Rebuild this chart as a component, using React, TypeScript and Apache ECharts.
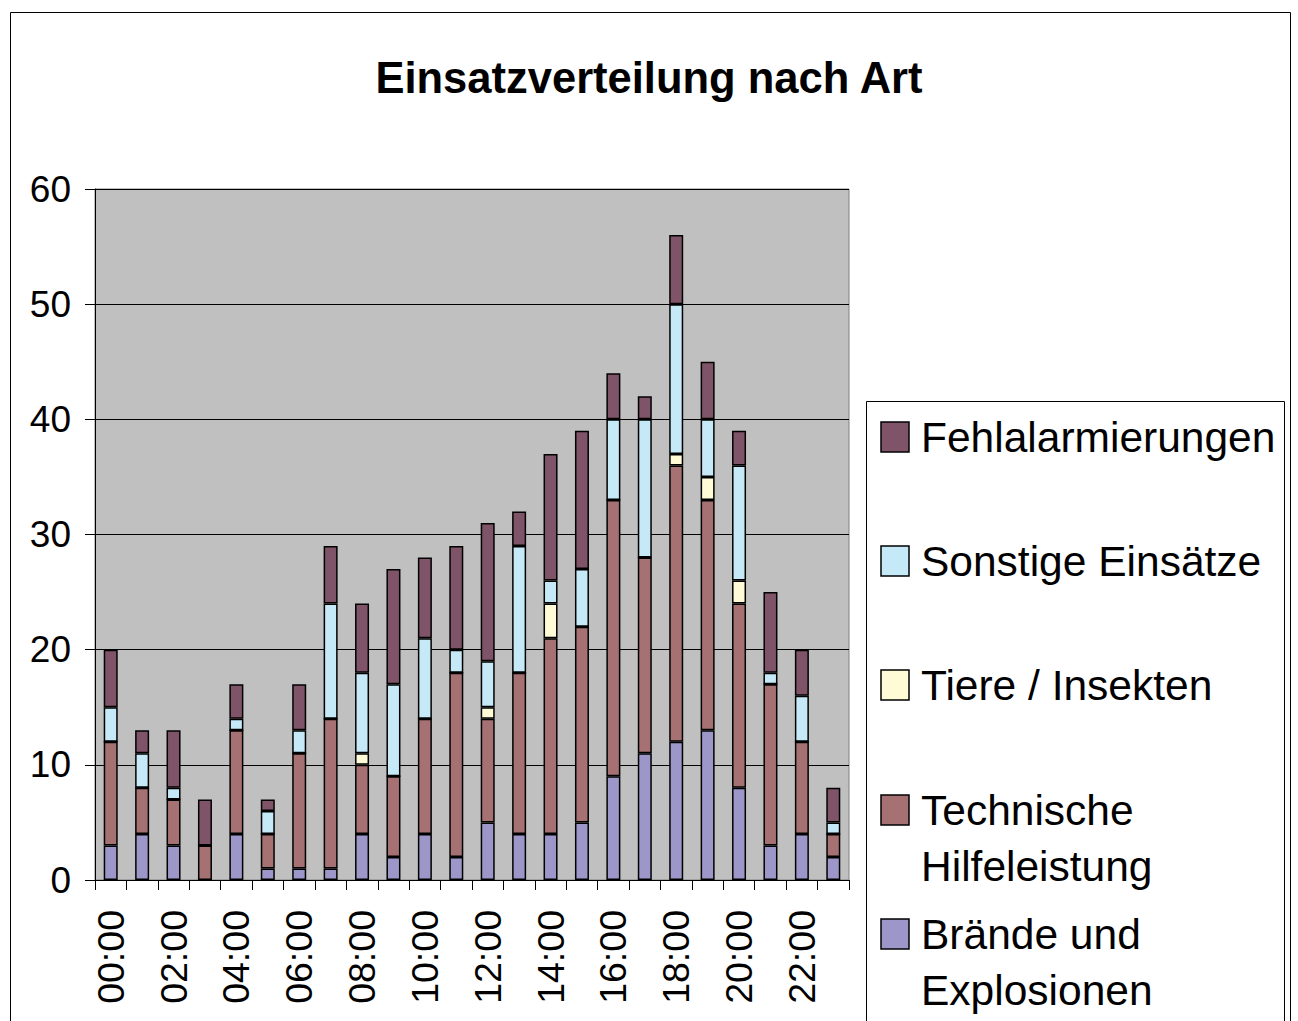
import React, { useEffect, useRef } from "react";
import * as echarts from "echarts";

const hours = [
  "00:00","01:00","02:00","03:00","04:00","05:00","06:00","07:00","08:00","09:00","10:00","11:00",
  "12:00","13:00","14:00","15:00","16:00","17:00","18:00","19:00","20:00","21:00","22:00","23:00",
];
const braende = [3, 4, 3, 0, 4, 1, 1, 1, 4, 2, 4, 2, 5, 4, 4, 5, 9, 11, 12, 13, 8, 3, 4, 2];
const technische = [9, 4, 4, 3, 9, 3, 10, 13, 6, 7, 10, 16, 9, 14, 17, 17, 24, 17, 24, 20, 16, 14, 8, 2];
const tiere = [0, 0, 0, 0, 0, 0, 0, 0, 1, 0, 0, 0, 1, 0, 3, 0, 0, 0, 1, 2, 2, 0, 0, 0];
const sonstige = [3, 3, 1, 0, 1, 2, 2, 10, 7, 8, 7, 2, 4, 11, 2, 5, 7, 12, 13, 5, 10, 1, 4, 1];
const fehl = [5, 2, 5, 4, 3, 1, 4, 5, 6, 10, 7, 9, 12, 3, 11, 12, 4, 2, 6, 5, 3, 7, 4, 3];

const seriesDefs = [
  { name: "Brände und Explosionen", legend: "Brände und\nExplosionen", data: braende, color: "#9D97C9" },
  { name: "Technische Hilfeleistung", legend: "Technische\nHilfeleistung", data: technische, color: "#A57173" },
  { name: "Tiere / Insekten", legend: "Tiere / Insekten", data: tiere, color: "#FFFBD6" },
  { name: "Sonstige Einsätze", legend: "Sonstige Einsätze", data: sonstige, color: "#C6E9F8" },
  { name: "Fehlalarmierungen", legend: "Fehlalarmierungen", data: fehl, color: "#7F5468" },
];

const FONT = "'Liberation Sans', Arial, sans-serif";

export default function App() {
  const ref = useRef<HTMLDivElement>(null);
  useEffect(() => {
    if (!ref.current) return;
    const chart = echarts.init(ref.current, null, { renderer: "svg" });
    const legendOrder = [...seriesDefs].reverse();
    const legendY = [437, 561, 685, 810, 934];
    const legendGraphics: any[] = [];
    legendOrder.forEach((s, i) => {
      const cy = legendY[i];
      legendGraphics.push({
        type: "rect",
        shape: { x: 881, y: cy - 15, width: 28, height: 30 },
        style: { fill: s.color, stroke: "#000", lineWidth: 1.5 },
      });
      legendGraphics.push({
        type: "text",
        x: 921,
        y: cy - 28,
        style: {
          text: s.legend,
          font: `42.5px ${FONT}`,
          fill: "#000",
          lineHeight: 56,
          verticalAlign: "top",
          align: "left",
        },
      });
    });
    chart.setOption({
      animation: false,
      backgroundColor: "#fff",
      textStyle: { fontFamily: FONT },
      title: {
        text: "Einsatzverteilung nach Art",
        left: "center",
        top: 51,
        textStyle: { fontSize: 43.5, fontWeight: "bold", color: "#000", fontFamily: FONT },
      },
      grid: {
        left: 95,
        top: 189,
        width: 754,
        height: 691,
        show: true,
        backgroundColor: "#C0C0C0",
        borderColor: "#808080",
        borderWidth: 1,
      },
      xAxis: {
        type: "category",
        data: hours,
        axisLine: { lineStyle: { color: "#000", width: 1 } },
        axisTick: { show: true, interval: 0, length: 10, lineStyle: { color: "#000" } },
        axisLabel: {
          interval: 1,
          rotate: 90,
          fontSize: 37.5,
          color: "#000",
          margin: 30,
          fontFamily: FONT,
        },
      },
      yAxis: {
        type: "value",
        min: 0,
        max: 60,
        interval: 10,
        axisLine: { show: true, lineStyle: { color: "#000", width: 1 } },
        axisTick: { show: true, length: 10, lineStyle: { color: "#000" } },
        axisLabel: { fontSize: 37, color: "#000", margin: 24, fontFamily: FONT },
        splitLine: { show: true, lineStyle: { color: "#000", width: 1 } },
      },
      series: seriesDefs.map((s) => ({
        name: s.name,
        type: "bar",
        stack: "total",
        data: s.data,
        barWidth: 14,
        itemStyle: { color: s.color, borderColor: "#000", borderWidth: 1.5 },
      })),
      graphic: [
        {
          type: "rect",
          shape: { x: 10.5, y: 12.5, width: 1280, height: 1100 },
          style: { fill: "none", stroke: "#000", lineWidth: 1 },
          z: -1,
        },
        {
          type: "rect",
          shape: { x: 866.5, y: 401.5, width: 418, height: 700 },
          style: { fill: "#fff", stroke: "#000", lineWidth: 1 },
        },
        ...legendGraphics,
      ],
    });
    return () => chart.dispose();
  }, []);
  return (
    <div
      ref={ref}
      style={{ position: "absolute", left: 0, top: 0, width: 1298, height: 1021 }}
    />
  );
}
